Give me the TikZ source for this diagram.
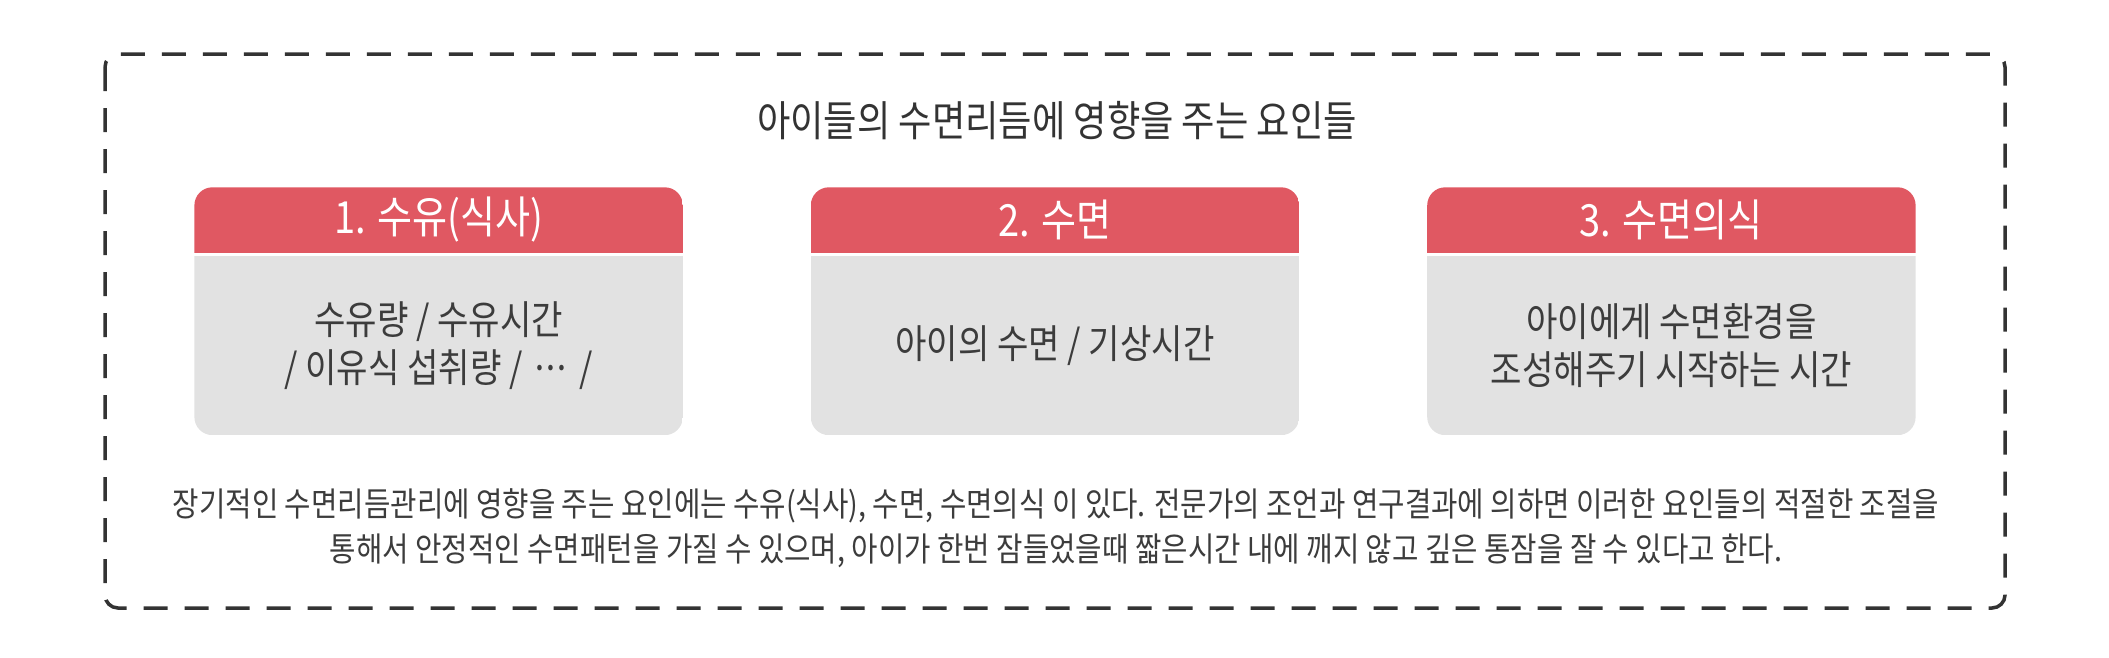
\documentclass[tikz,border=0pt]{standalone}
\usepackage{fontspec}
\usetikzlibrary{positioning,backgrounds}
\newfontfamily\krfont{Noto Sans CJK KR}[FakeStretch=0.86]
\definecolor{ink}{HTML}{333333}
\definecolor{textgray}{HTML}{3C3C3C}
\definecolor{headred}{HTML}{E05862}
\definecolor{cardgray}{HTML}{E2E2E2}
\newcommand{\middots}{·\kern-.2em·\kern-.2em·}
\tikzset{
frame/.style={draw=ink,line width=.35mm,dash pattern=on 2.4mm off 1.7mm,rounded corners=1.3mm},
heading/.style={font=\krfont\fontsize{12}{14}\selectfont,text=ink,inner sep=0pt},
cardhead/.style={minimum width=48.7mm,minimum height=6.4mm,inner sep=0pt,font=\krfont\fontsize{12.6}{14}\selectfont,text=white},
cardbody/.style={minimum width=48.7mm,minimum height=17.8mm,inner sep=0pt,align=center,font=\krfont\fontsize{11.3}{13.7}\selectfont,text=textgray},
note/.style={align=center,inner sep=0pt,font=\krfont\fontsize{9.5}{12.8}\selectfont,text=textgray}}

\begin{document}
\begin{tikzpicture}[x=0.1mm,y=-0.1mm]
\useasboundingbox (0,0) rectangle (2109,657);
\draw[frame] (105,54) rectangle (2005,608);
\node[heading] (title) at (1057,121) {아이들의 수면리듬에 영향을 주는 요인들};
\node[cardhead] (head2) at (1055,220) {2. 수면};
\node[cardhead,left=12.8mm of head2] (head1) {1. 수유(식사)};
\node[cardhead,right=12.8mm of head2] (head3) {3. 수면의식};
\node[cardbody,below=.3mm of head1] (body1) {수유량 / 수유시간\\/ 이유식 섭취량 / \middots{} /};
\node[cardbody,below=.3mm of head2] (body2) {아이의 수면 / 기상시간};
\node[cardbody,below=.3mm of head3] (body3) {아이에게 수면환경을\\조성해주기 시작하는 시간};
\node[note] (note) at (1056,528) {장기적인 수면리듬관리에 영향을 주는 요인에는 수유(식사), 수면, 수면의식 이 있다. 전문가의 조언과 연구결과에 의하면 이러한 요인들의 적절한 조절을\\통해서 안정적인 수면패턴을 가질 수 있으며, 아이가 한번 잠들었을때 짧은시간 내에 깨지 않고 깊은 통잠을 잘 수 있다고 한다.};
\begin{scope}[on background layer]
\foreach \i in {1,2,3}{
\begin{scope}
\clip[rounded corners=1.8mm] (head\i.north west) rectangle (body\i.south east);
\fill[headred] (head\i.north west) rectangle (head\i.south east);
\fill[cardgray] (body\i.north west) rectangle (body\i.south east);
\end{scope}
}
\end{scope}
\end{tikzpicture}
\end{document}
